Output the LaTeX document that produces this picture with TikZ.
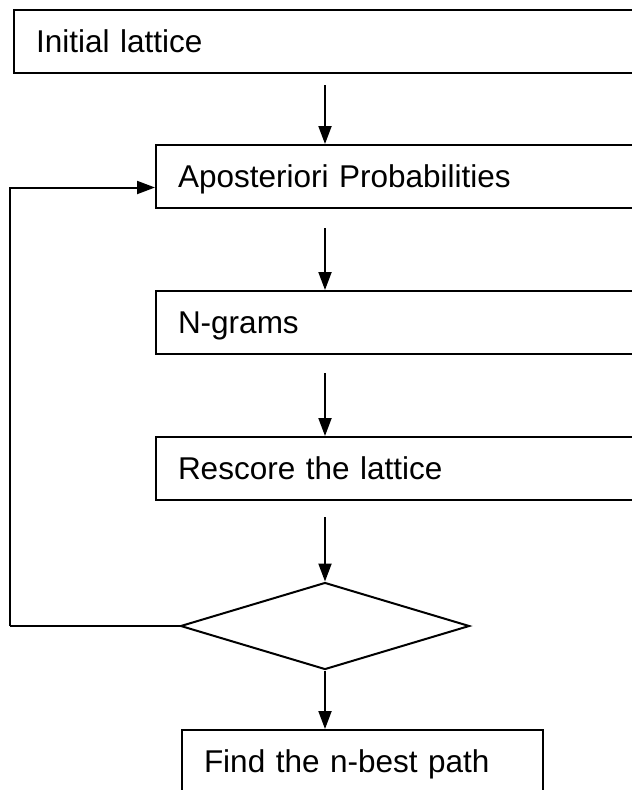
\documentclass[tikz,border=0pt]{standalone}
\usepackage{fontspec}
\setmainfont{Liberation Sans}
\usetikzlibrary{shapes.geometric,arrows.meta}
\begin{document}
\begin{tikzpicture}[x=1pt,y=1pt,
  every node/.style={font=\fontsize{31.5}{36}\selectfont},
  stepbox/.style={draw, line width=2pt, anchor=north west, inner xsep=22pt,
    inner ysep=16.25pt, text height=26.5pt, text depth=4pt, align=left},
  decision/.style={draw, diamond, line width=2pt, inner sep=0pt,
    minimum width=289pt, minimum height=87pt},
  arr/.style={line width=2pt, -{Triangle[length=18pt,width=13pt]}},
  link/.style={line width=2pt}]
\useasboundingbox (0,0) rectangle (632,-790);
\clip (0,0) rectangle (632,-790);
\node[stepbox, text width=603pt] (b1) at (13,-9) {Initial lattice};
\node[stepbox, text width=461pt] (b2) at (155,-144) {Aposteriori Probabilities};
\node[stepbox, text width=461pt] (b3) at (155,-290) {N-grams};
\node[stepbox, text width=461pt] (b4) at (155,-436) {Rescore the lattice};
\node[decision] (d) at (325,-626) {};
\node[stepbox, text width=317pt] (b5) at (181,-729) {Find the n-best path};
\coordinate (s1) at (325,-85);
\coordinate (s2) at (325,-228);
\coordinate (s3) at (325,-373);
\coordinate (s4) at (325,-517);
\coordinate (fb) at (10,-626);
\draw[arr] (s1) -- (b2.north -| s1);
\draw[arr] (s2) -- (b3.north -| s2);
\draw[arr] (s3) -- (b4.north -| s3);
\draw[arr] (s4) -- (d.north);
\draw[arr] (d.south) -- (b5.north -| d.south);
\draw[link] (d.west) -- (fb);
\draw[arr] (fb) |- ([yshift=-11pt]b2.west);
\end{tikzpicture}
\end{document}
